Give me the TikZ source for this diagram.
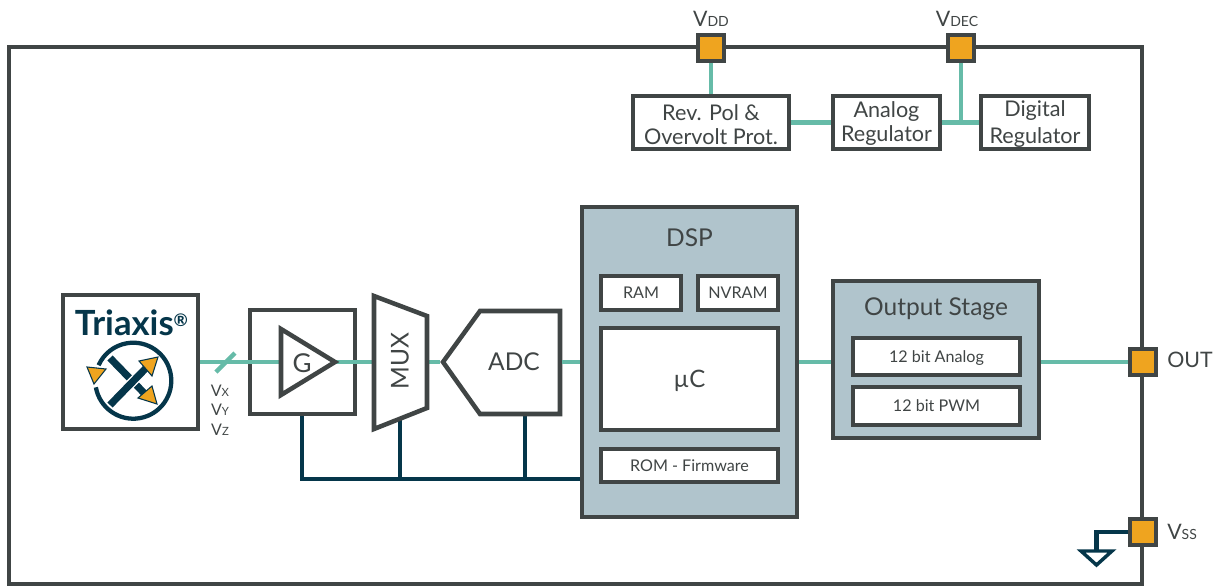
\documentclass[tikz,border=0pt]{standalone}
\usepackage{fontspec}
\setmainfont{Lato}
\usetikzlibrary{positioning}
\usetikzlibrary{calc}
\definecolor{dgray}{HTML}{404545}
\definecolor{teal1}{HTML}{66BBA8}
\definecolor{navy1}{HTML}{05364A}
\definecolor{orange1}{HTML}{EFA41F}
\definecolor{dspblue}{HTML}{B0C4CC}
\newcommand{\sig}[2]{#1{\fontsize{10.5}{12}\selectfont #2}}
\newcommand{\sigs}[2]{#1{\fontsize{8.5}{10}\selectfont #2}}

\begin{document}
\begin{tikzpicture}
  [x=0.75pt,y=-0.75pt,text=dgray,
  sized/.style 2 args={minimum width=#1*0.75pt,minimum height=#2*0.75pt},
  block/.style={draw=dgray,line width=3.4pt,fill=white,inner sep=0pt,align=center},
  bigtext/.style={inner sep=0pt,align=center,font=\fontsize{16.2}{18}\selectfont},
  smallblock/.style={draw=dgray,line width=3.4pt,fill=white,inner sep=0pt,text height=8.8pt,text depth=0pt,font=\fontsize{12.1}{14}\selectfont},
  greyblock/.style={draw=dgray,line width=3.4pt,fill=dspblue,inner sep=0pt},
  pad/.style={draw=dgray,line width=3pt,fill=orange1,inner sep=0pt,minimum size=19.5pt},
  label/.style={inner sep=0pt,font=\fontsize{16}{18}\selectfont},
  smalllabel/.style={inner sep=0pt,font=\fontsize{12}{14}\selectfont},
  title/.style={inner sep=0pt,font=\fontsize{18.4}{20}\selectfont},
  tealline/.style={teal1,line width=3.4pt},
  navyline/.style={navy1,line width=3.4pt},
  shapeline/.style={draw=dgray,line width=3.4pt,fill=white,line join=miter},
  logotip/.style={draw=navy1,line width=0.8pt,fill=orange1}]
  \useasboundingbox (0,0) rectangle (1224,586);

  % frame and pads
  \node[draw=dgray,line width=3.4pt,sized={1133}{537}] (frame) at (575.5,315.5) {};
  \node[pad] (vdd) at (711,48) {};
  \node[pad] (vdec) at (961,48) {};
  \node[pad] (out) at (1143,362) {};
  \node[pad] (vss) at (1143,532) {};
  \node[label] (vddl) at (711,19) {\sig{V}{DD}};
  \node[label] (vdecl) at (957,19) {\sig{V}{DEC}};
  \node[label,anchor=west] (outl) at (1167,360) {OUT};
  \node[label,anchor=west] (vssl) at (1167,532) {\sig{V}{SS}};

  % supply row
  \node[block,sized={156}{53}] (rev) at (711,122.5) {};
  \node[block,sized={107}{53}] (analog) at (886.5,122.5) {};
  \node[block,sized={108}{53}] (digital) at (1035,122.5) {};
  \node[bigtext] (revl) at (711,124.5) {Rev. Pol \&\\Overvolt Prot.};
  \node[bigtext] (analogl) at (886.5,123.5) {Analog\\Regulator};
  \node[bigtext] (digitall) at (1035,124) {Digital\\[2pt]Regulator};

  \draw[tealline] (vdd) -- (rev);
  \draw[tealline] (rev) -- (analog);
  \draw[tealline] (analog) -- (digital);
  \draw[tealline] (vdec) -- (vdec |- analog);

  % sensor
  \node[block,sized={135}{134}] (triaxis) at (130.5,362) {};
  \node[inner sep=0pt,text=navy1,font=\fontsize{26}{28}\selectfont\bfseries] (logotext) at (131.5,323) {Triaxis\raisebox{7pt}{\fontsize{13}{14}\selectfont ®}};
  \coordinate (logoc) at (133.3,380.7);
  \draw[navy1,line width=3.2pt] ($(logoc)+(190:28.5pt)$) arc[start angle=190,end angle=516,radius=28.5pt];
  \coordinate (bar1a) at (110,358);
  \coordinate (bar1b) at (145,394);
  \coordinate (bar2a) at (110,405);
  \coordinate (bar2b) at (148,366);
  \draw[navy1,line width=5.4pt] (bar1a) -- (bar1b);
  \draw[white,line width=7.4pt] (bar2a) -- (bar2b);
  \draw[navy1,line width=5.4pt] (bar2a) -- (bar2b);
  \draw[logotip] (87,367) -- (106,369) -- (94,384) -- cycle;
  \draw[logotip] (139,361) -- (158,357) -- (152,376) -- cycle;
  \draw[logotip] (138,398) -- (152,386) -- (157,404) -- cycle;

  % gain block
  \node[block,sized={105}{104}] (gain) at (302.5,362) {};
  \coordinate (gainin) at (281,362);
  \coordinate (gaintip) at (335,362);
  \coordinate (muxin) at (374,362);
  \coordinate (muxout) at (427,362);
  \coordinate (adcin) at (440,362);
  \coordinate (muxbot) at (400,420);
  \coordinate (adcbot) at (525,414);
  \coordinate (bus1) at (302,479);
  \coordinate (bus2) at (400,479);
  \coordinate (bus3) at (525,479);

  \node[greyblock,sized={215}{310}] (dsp) at (689.5,362) {};

  \draw[tealline] (triaxis) -- (gain);
  \draw[teal1,line width=3.4pt] (216,372) -- (235,353);
  \draw[tealline] (gain.west) -- (gainin);
  \draw[tealline] (gaintip) -- (gain.east);
  \draw[tealline] (gain.east) -- (muxin);
  \draw[tealline] (muxout) -- (adcin);
  \draw[navyline] (gain.south -| bus1) -- (bus1) -- (dsp.west |- bus1);
  \draw[navyline] (muxbot) -- (bus2);
  \draw[navyline] (adcbot) -- (bus3);

  \draw[shapeline] (gainin |- 0,329) -- (gaintip) -- (gainin |- 0,395) -- cycle;
  \node[inner sep=0pt,font=\fontsize{19.5}{20}\selectfont] (gainl) at (302,363) {G};

  \node[smalllabel] (vxl) at (220,391) {\sigs{V}{X}};
  \node[smalllabel] (vyl) at (220,410) {\sigs{V}{Y}};
  \node[smalllabel] (vzl) at (220,430) {\sigs{V}{Z}};

  % mux and adc
  \draw[shapeline] (374,296) -- (427,316) -- (427,408) -- (374,429) -- cycle;
  \node[inner sep=0pt,rotate=90,font=\fontsize{18.4}{20}\selectfont] (muxl) at (400,361) {MUX};
  \draw[shapeline] (443,362) -- (480,311) -- (560,311) -- (560,414) -- (480,414) -- cycle;
  \node[inner sep=0pt,font=\fontsize{18.4}{20}\selectfont] (adcl) at (514,362) {ADC};
  \coordinate (adcout) at (562,362);
  \draw[tealline] (adcout) -- (dsp.west);

  % dsp
  \node[title] (dspl) at (689.5,238) {DSP};
  \node[smallblock,sized={80}{34}] (ram) at (641,293) {RAM};
  \node[smallblock,sized={80}{34}] (nvram) at (738,293) {NVRAM};
  \node[block,sized={177}{102},text height=12.6pt,text depth=0pt,font=\fontsize{18}{20}\selectfont] (uc) at (689.5,379) {µC};
  \node[smallblock,sized={177}{33}] (rom) at (689.5,465.5) {ROM - Firmware};

  % output stage
  \node[greyblock,sized={206}{157}] (stage) at (936,359.5) {};
  \node[title] (stagel) at (936,309) {Output Stage};
  \node[smallblock,sized={167}{37}] (ana12) at (936.5,356.5) {12 bit Analog};
  \node[smallblock,sized={167}{38}] (pwm12) at (936.5,406) {12 bit PWM};
  \draw[tealline] (dsp.east) -- (stage.west |- dsp);
  \draw[tealline] (stage.east |- out) -- (out);

  % ground
  \coordinate (gnd) at (1096.5,551);
  \draw[navyline] (vss) -- (gnd |- vss) -- (gnd);
  \draw[navy1,line width=2.6pt,line join=miter] (1081,551) -- (1112,551) -- (1096.5,565) -- cycle;
\end{tikzpicture}
\end{document}
